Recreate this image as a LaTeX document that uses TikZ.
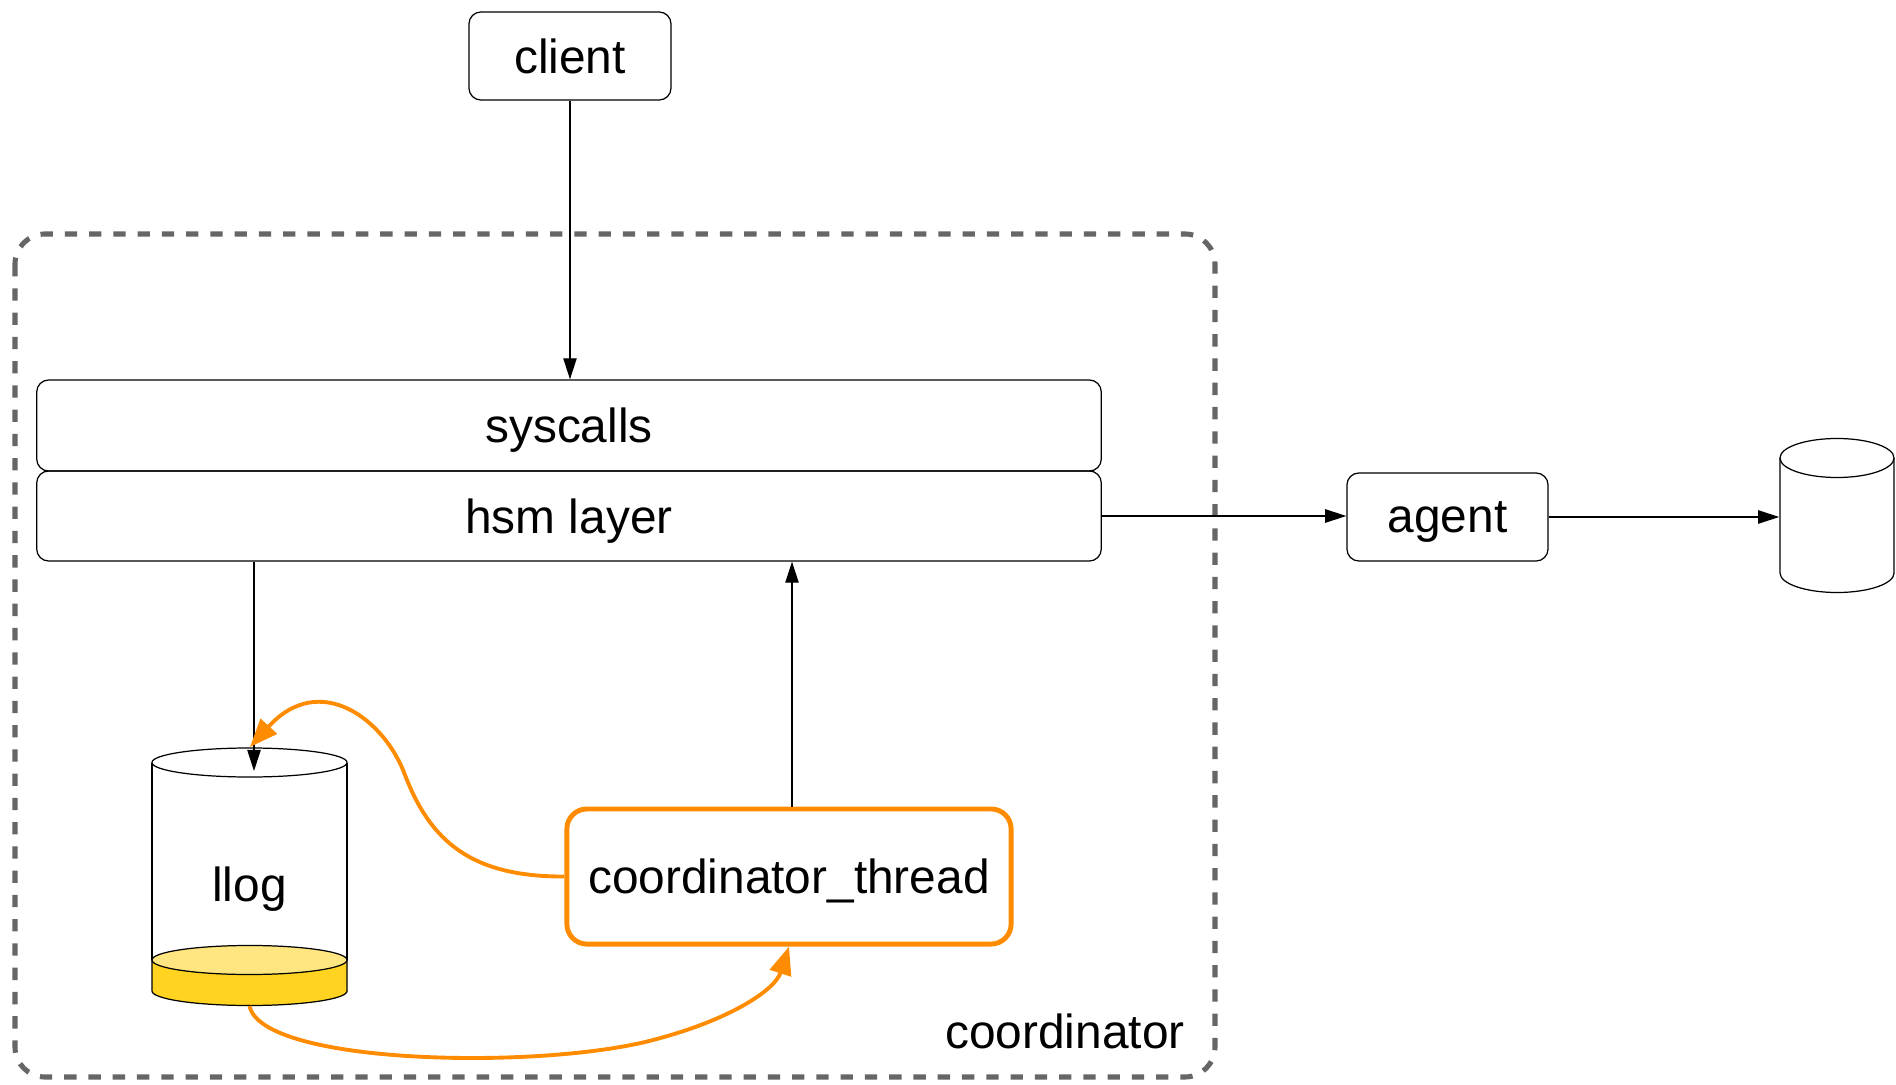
\documentclass[tikz,border=0pt]{standalone}
\usepackage{fontspec}
\setmainfont{Liberation Sans}
\usetikzlibrary{arrows.meta,calc}

\definecolor{framegray}{HTML}{666666}
\definecolor{threadorange}{HTML}{FF8C00}
\definecolor{logyellow}{HTML}{FFD320}
\definecolor{logtop}{HTML}{FFE680}

\tikzset{
	box/.style={draw, line width=0.35pt, rounded corners=0.12cm, inner sep=0pt, minimum height=0.88cm, text depth=0pt},
	arr/.style={-{Triangle[length=6pt,width=3.8pt]}, line width=0.35pt},
	hot/.style={-{Triangle[length=8pt,width=6.2pt]}, draw=threadorange, line width=1.1pt},
}

\begin{document}
\begin{tikzpicture}[x=0.01cm, y=-0.01cm, font=\fontsize{13.6}{16}\selectfont]
			\useasboundingbox (0,0) rectangle (1896,1085);
			
			% coordinator frame
			\draw[framegray, line width=1.45pt, dash pattern=on 3.5pt off 3.4pt, rounded corners=0.3cm] (15,234) rectangle (1215,1077);
			\node (coordlabel) at (1065,1031) {coordinator};
			
			\node[box, minimum width=2.02cm] (client) at (570,56) {client};
			\node[box, minimum width=10.64cm, minimum height=0.91cm] (syscalls) at (569,425.5) {syscalls};
			\node[box, minimum width=10.64cm, minimum height=0.9cm] (hsm) at (569,516) {hsm layer};
			\node[box, minimum width=2.01cm] (agent) at (1447.5,517) {agent};
			\node[draw=threadorange, line width=1.4pt, rounded corners=0.2cm, minimum width=4.44cm, minimum height=1.35cm, text depth=0pt] (thread) at (789,876.5) {coordinator\_thread};
			
			% llog cylinder
			\filldraw[fill=logyellow, line width=0.35pt] (152,960) -- (152,991) arc[start angle=180, end angle=360, x radius=0.975cm, y radius=0.145cm] -- (347,960) -- cycle;
			\filldraw[fill=logtop, line width=0.35pt] (249.5,960) ellipse[x radius=0.975cm, y radius=0.145cm];
			\draw[line width=0.35pt] (152,762.5) -- (152,960);
			\draw[line width=0.35pt] (347,762.5) -- (347,960);
			\draw[line width=0.35pt] (249.5,762.5) ellipse[x radius=0.975cm, y radius=0.145cm];
			\node[text depth=0pt] (llog) at (249.5,884) {llog};
			\coordinate (llogin) at (254,771);
			\coordinate (llogtip) at (250,747);
			\coordinate (llogbase) at (249.5,1006);
			
			% store cylinder
			\node[minimum width=1.14cm, minimum height=1.54cm] (store) at (1837,515.5) {};
			\draw[line width=0.35pt] (1780,458) -- (1780,573) arc[start angle=180, end angle=360, x radius=0.57cm, y radius=0.195cm] -- (1894,458);
			\draw[line width=0.35pt] (1837,458) ellipse[x radius=0.57cm, y radius=0.195cm];
			
			\draw[arr] (client.south) -- (client.south |- syscalls.north);
			\draw[arr] (hsm.south -| llogin) -- (llogin);
			\coordinate (up) at ([xshift=0.03cm]thread.north);
			\draw[arr] (up) -- (up |- hsm.south);
			\draw[arr] (hsm.east) -- (hsm.east -| agent.west);
			\draw[arr] (agent.east) -- (agent.east -| store.west);
			
			\draw[hot] (thread.west) .. controls (470,877) and (430,840) .. (405,775) .. controls (385,720) and (320,670) .. (llogtip);
			\draw[hot] (llogbase) .. controls (262,1065) and (540,1070) .. (653,1040) .. controls (730,1020) and (775,990) .. (thread.south);
		\end{tikzpicture}
\end{document}
